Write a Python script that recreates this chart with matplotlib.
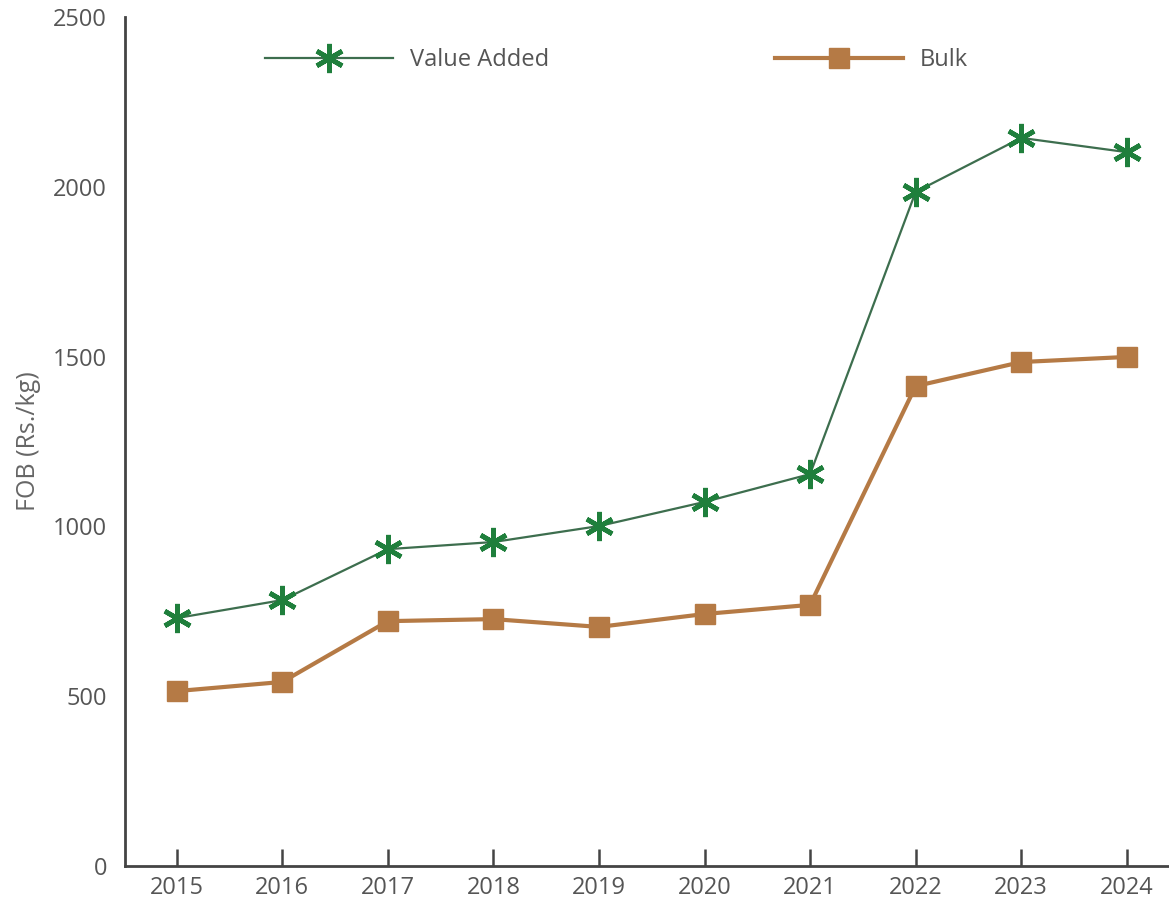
import matplotlib.pyplot as plt

# FOB prices (Rs./kg)
years = [2015, 2016, 2017, 2018, 2019, 2020, 2021, 2022, 2023, 2024]
value_added = [730, 783, 933, 954, 1001, 1072, 1154, 1985, 2144, 2102]
bulk = [515, 542, 721, 727, 704, 742, 769, 1413, 1484, 1499]
y_ticks = [0, 500, 1000, 1500, 2000, 2500]

green_line = '#3d6e4e'
green_mark = '#1f7f3c'
brown = '#b57a45'
text_col = '#555555'
fs = 17

plt.rcParams['font.family'] = ['Open Sans', 'DejaVu Sans']

fig = plt.figure(figsize=(11.69, 9.05), dpi=100)
ax = fig.add_axes([125 / 1169, 1 - 866 / 905, (1169 - 125) / 1169, (866 - 17) / 905])

va_line, = ax.plot(years, value_added, color=green_line, lw=1.6, marker=(6, 2, 0),
                   markersize=21, markeredgewidth=3.4, markeredgecolor=green_mark,
                   label='Value Added', zorder=3)
bulk_line, = ax.plot(years, bulk, color=brown, lw=3, marker='s', markersize=14,
                     markerfacecolor=brown, markeredgecolor=brown, label='Bulk', zorder=3)

ax.set_xlim(2014.51, 2024.4)
ax.set_ylim(0, 2500)
ax.set_xticks(years)
ax.set_xticklabels([str(y) for y in years])
ax.set_yticks(y_ticks)
ax.set_yticks([2500], minor=True)

for s in ['top', 'right']:
    ax.spines[s].set_visible(False)
for s in ['left', 'bottom']:
    ax.spines[s].set_color('#444444')
    ax.spines[s].set_linewidth(2)

ax.tick_params(axis='x', direction='in', length=12, width=1.8, color='#444444',
               labelsize=fs, labelcolor=text_col, pad=7)
ax.tick_params(axis='y', which='major', length=0, labelsize=fs,
               labelcolor=text_col, pad=13)
ax.tick_params(axis='y', which='minor', direction='in', length=12, width=1.8,
               color='#444444')

ax.set_ylabel('FOB (Rs./kg)', fontsize=18, color='#666666')
ax.yaxis.set_label_coords(-0.08, 0.5)

# two separate legend entries, placed like the reference
leg_kw = dict(frameon=False, fontsize=fs, handlelength=5.4, handletextpad=0.75,
              borderpad=0, borderaxespad=0, loc='center left',
              bbox_transform=fig.transFigure, labelcolor=text_col)
leg1 = ax.legend([va_line], ['Value Added'], bbox_to_anchor=(265 / 1169, 1 - 60 / 905), **leg_kw)
ax.add_artist(leg1)
ax.legend([bulk_line], ['Bulk'], bbox_to_anchor=(775 / 1169, 1 - 60 / 905), **leg_kw)

fig.savefig('out.png', dpi=100)
